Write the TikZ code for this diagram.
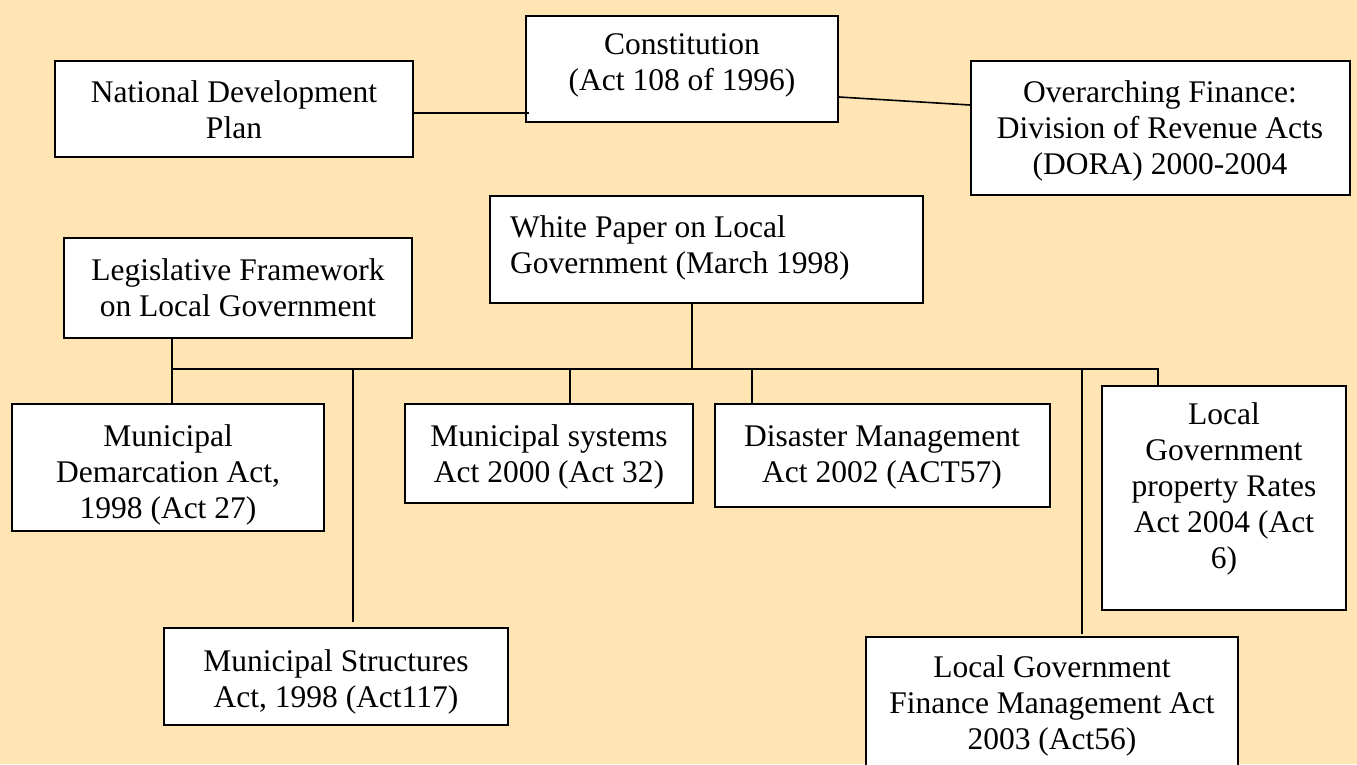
\documentclass[tikz,border=0pt]{standalone}
\usepackage{fontspec}
\setmainfont{Liberation Serif}
\usetikzlibrary{calc}
\definecolor{paper}{RGB}{255,229,180}
\begin{document}
\begin{tikzpicture}[x=1pt,y=-1pt,
  box/.style={draw=black, line width=2pt, fill=white, rectangle, inner sep=0pt},
  boxtext/.style={font=\fontsize{31.5}{36}\selectfont, align=center, inner sep=0pt},
  link/.style={draw=black, line width=1.6pt}]
% page and background
\useasboundingbox (0,0) rectangle (1357,764);
\clip (0,0) rectangle (1357,764);
\fill[paper] (0,0) rectangle (1357,764);

% boxes
\node[box, minimum width=312, minimum height=106] (const)    at (682,69)     {};
\node[box, minimum width=358, minimum height=96]  (ndp)      at (234,109)    {};
\node[box, minimum width=379, minimum height=134] (dora)     at (1160.5,128) {};
\node[box, minimum width=433, minimum height=107] (wp)       at (706.5,249.5){};
\node[box, minimum width=348, minimum height=100] (lf)       at (238,288)    {};
\node[box, minimum width=312, minimum height=127] (demarc)   at (168,467.5)  {};
\node[box, minimum width=288, minimum height=99]  (systems)  at (549,453.5)  {};
\node[box, minimum width=335, minimum height=103] (disaster) at (882.5,455.5){};
\node[box, minimum width=244, minimum height=224] (lgpr)     at (1224,498)   {};
\node[box, minimum width=344, minimum height=97]  (struct)   at (336,676.5)  {};
\node[box, minimum width=372, minimum height=143] (finance)  at (1052,708.5) {};

% texts
\node[boxtext] (const-t)    at (682,65)   {\strut Constitution\\\strut(Act 108 of 1996)};
\node[boxtext] (ndp-t)      at (234,113)  {\strut National Development\\\strut Plan};
\node[boxtext] (dora-t)     at (1160,131) {\strut Overarching Finance:\\\strut Division of Revenue Acts\\\strut(DORA) 2000-2004};
\node[boxtext, align=left, anchor=west] (wp-t) at (510,248) {\strut White Paper on Local\\\strut Government (March 1998)};
\node[boxtext] (lf-t)       at (238,291)  {\strut Legislative Framework\\\strut on Local Government};
\node[boxtext] (demarc-t)   at (168,475)  {\strut Municipal\\\strut Demarcation Act,\\\strut 1998 (Act 27)};
\node[boxtext] (systems-t)  at (549,457)  {\strut Municipal systems\\\strut Act 2000 (Act 32)};
\node[boxtext] (disaster-t) at (882,457)  {\strut Disaster Management\\\strut Act 2002 (ACT57)};
\node[boxtext] (lgpr-t)     at (1224,489) {\strut Local\\\strut Government\\\strut property Rates\\\strut Act 2004 (Act\\\strut 6)};
\node[boxtext] (struct-t)   at (336,682)  {\strut Municipal Structures\\\strut Act, 1998 (Act117)};
\node[boxtext] (finance-t)  at (1052,706) {\strut Local Government\\\strut Finance Management Act\\\strut 2003 (Act56)};

% junction points on the distribution bus
\coordinate (busL) at (172,369);
\coordinate (busR) at (1158,369);
\coordinate (wpJ)  at (692,369);
\coordinate (stJ)  at (353,369);
\coordinate (syJ)  at (570,369);
\coordinate (diJ)  at (752,369);
\coordinate (fiJ)  at (1082,369);

% connectors
\draw[link] ($(ndp.east)+(0,4)$) -- ($(ndp.east -| const.west)+(4,4)$);
\draw[link] ($(const.east)+(0,28)$) -- ($(dora.west)+(0,-23)$);
\draw[link] (busL |- lf.south) -- (busL |- demarc.north);
\draw[link] (busL) -- (busR) -- (busR |- lgpr.north);
\draw[link] (wpJ |- wp.south) -- (wpJ);
\draw[link] (stJ) -- ($(stJ |- struct.north)+(0,-5)$);
\draw[link] (syJ) -- (syJ |- systems.north);
\draw[link] (diJ) -- (diJ |- disaster.north);
\draw[link] (fiJ) -- ($(fiJ |- finance.north)+(0,-2)$);
\end{tikzpicture}
\end{document}
